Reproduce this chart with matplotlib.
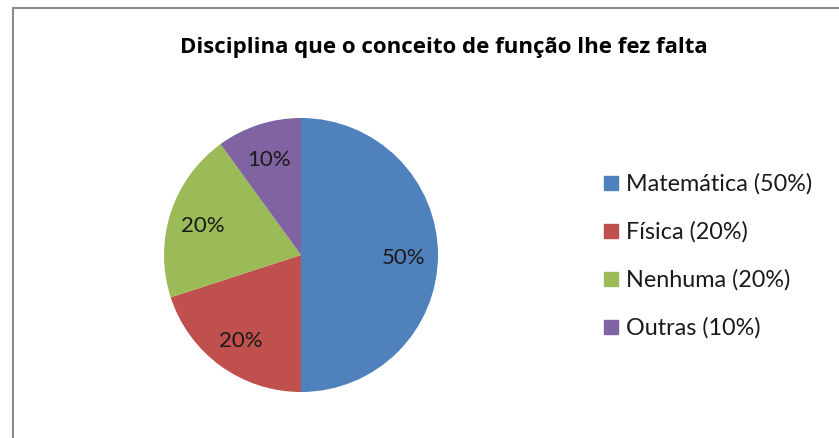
import matplotlib.pyplot as plt
from matplotlib.patches import Rectangle

categorias = ["Matemática", "Física", "Nenhuma", "Outras"]
valores = [50, 20, 20, 10]
cores = ["#4F81BD", "#C0504D", "#9BBB59", "#8064A2"]
titulo = "Disciplina que o conceito de função lhe fez falta"

plt.rcParams["font.family"] = ["Lato", "DejaVu Sans"]

W, H = 839, 439
fig = plt.figure(figsize=(W / 100, H / 100), dpi=100)

# borda cinza (só esquerda e topo visíveis)
fig.patches.append(Rectangle((13 / W, -0.1), 1.2, (H - 9) / H + 0.1,
                             transform=fig.transFigure, fill=False,
                             edgecolor="#8C8C8C", linewidth=1.5))

cx, cy, r = 301, 256, 137
ax = fig.add_axes([(cx - r) / W, 1 - (cy + r) / H, 2 * r / W, 2 * r / H])
fatias, textos, pcts = ax.pie(valores, colors=cores, startangle=90, counterclock=False,
                              autopct="%d%%", pctdistance=0.75,
                              textprops={"fontsize": 16, "color": "#1a1a1a"})
for t in pcts:
    t.set_va("center_baseline")
ax.set_xlim(-1, 1)
ax.set_ylim(-1, 1)
ax.set_aspect("equal")

fig.text(444 / W, 1 - 47 / H, titulo, ha="center", va="center",
         fontsize=16, fontweight="bold", family=["Open Sans", "DejaVu Sans"])

rotulos = [f"{c} ({v}%)" for c, v in zip(categorias, valores)]
for i, (rot, cor) in enumerate(zip(rotulos, cores)):
    y = 184 + i * 48
    fig.patches.append(Rectangle((604 / W, 1 - (y + 7) / H), 14 / W, 14 / H,
                                 transform=fig.transFigure, color=cor))
    fig.text(626 / W, 1 - y / H, rot, ha="left", va="center", fontsize=16.8,
             color="#1a1a1a")

fig.savefig("out.png", dpi=100)
